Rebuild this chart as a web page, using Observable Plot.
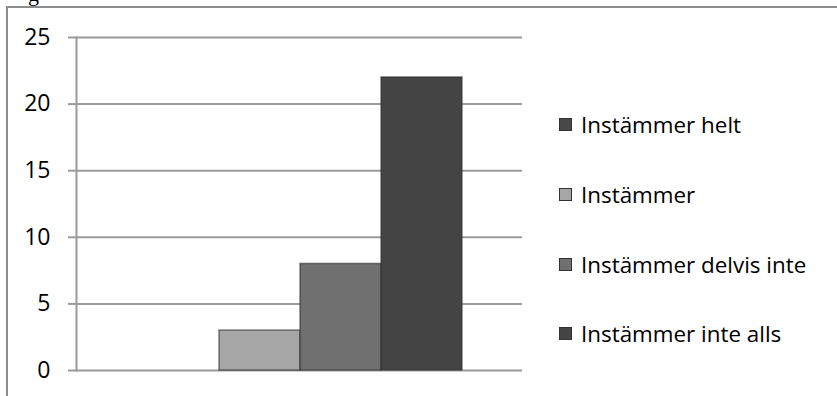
<!DOCTYPE html>
<html>
<head>
<meta charset="utf-8">
<script src="https://cdn.jsdelivr.net/npm/d3@7"></script>
<script src="https://cdn.jsdelivr.net/npm/@observablehq/plot@0.6"></script>
<style>
  html, body { margin: 0; padding: 0; background: #fff; }
  body { width: 837px; height: 396px; position: relative; overflow: hidden; font-family: "Open Sans", sans-serif; }
  #cap { position: absolute; left: 28px; top: -19px; font: 22px "Liberation Serif", serif; color: #000; }
  #border { position: absolute; left: 6px; top: 6px; width: 840px; height: 400px; border-top: 2px solid #8c8c8c; border-left: 2px solid #8c8c8c; box-sizing: border-box; }
  #chart { position: absolute; left: 0; top: 0; }
  #legend { position: absolute; left: 559px; top: 0; }
  .item { position: absolute; left: 0; white-space: nowrap; display: flex; align-items: center; font-size: 22.4px; color: #000; }
  .sw { width: 13px; height: 13px; margin-right: 9px; box-sizing: border-box; border: 1px solid #333; }
</style>
</head>
<body>
<div id="cap">g</div>
<div id="border"></div>
<div id="chart"></div>
<div id="legend"></div>
<script>
const series = ["Instämmer helt", "Instämmer", "Instämmer delvis inte", "Instämmer inte alls"];
const values = [0, 3, 8, 22];
const colors = ["#484848", "#a6a6a6", "#707070", "#444444"];
const yTicks = [0, 5, 10, 15, 20, 25];

const data = series.map((s, i) => ({series: s, value: values[i]}));

const plot = Plot.plot({
  width: 837,
  height: 396,
  marginTop: 37,
  marginBottom: 26,
  marginLeft: 76,
  marginRight: 315,
  style: {fontFamily: "'Open Sans', sans-serif", fontSize: "23px", color: "#000", background: "transparent"},
  x: {domain: series, range: [136, 463], padding: 0, axis: null},
  y: {domain: [0, 25], ticks: yTicks, label: null},
  color: {domain: series, range: colors},
  marks: [
    Plot.gridY(yTicks, {stroke: "#9a9a9a", strokeOpacity: 1, strokeWidth: 2}),
    Plot.axisY(yTicks, {tickSize: 8, tickPadding: 18, stroke: "#9a9a9a", strokeWidth: 2, fontSize: 23, fill: "#000", label: null}),
    Plot.frame({anchor: "left", stroke: "#9a9a9a", strokeWidth: 2}),
    Plot.barY(data, {x: "series", y: "value", fill: "series", stroke: "#2e2e2e", strokeOpacity: 0.6, strokeWidth: 1.5, inset: 0})
  ]
});
document.getElementById("chart").appendChild(plot);

const legendY = [124, 194, 264, 333];
const leg = document.getElementById("legend");
series.forEach((s, i) => {
  const it = document.createElement("div");
  it.className = "item";
  it.style.top = (legendY[i] - 15) + "px";
  it.style.height = "30px";
  const sw = document.createElement("span");
  sw.className = "sw";
  sw.style.background = colors[i];
  const tx = document.createElement("span");
  tx.textContent = s;
  it.appendChild(sw);
  it.appendChild(tx);
  leg.appendChild(it);
});
</script>
</body>
</html>
